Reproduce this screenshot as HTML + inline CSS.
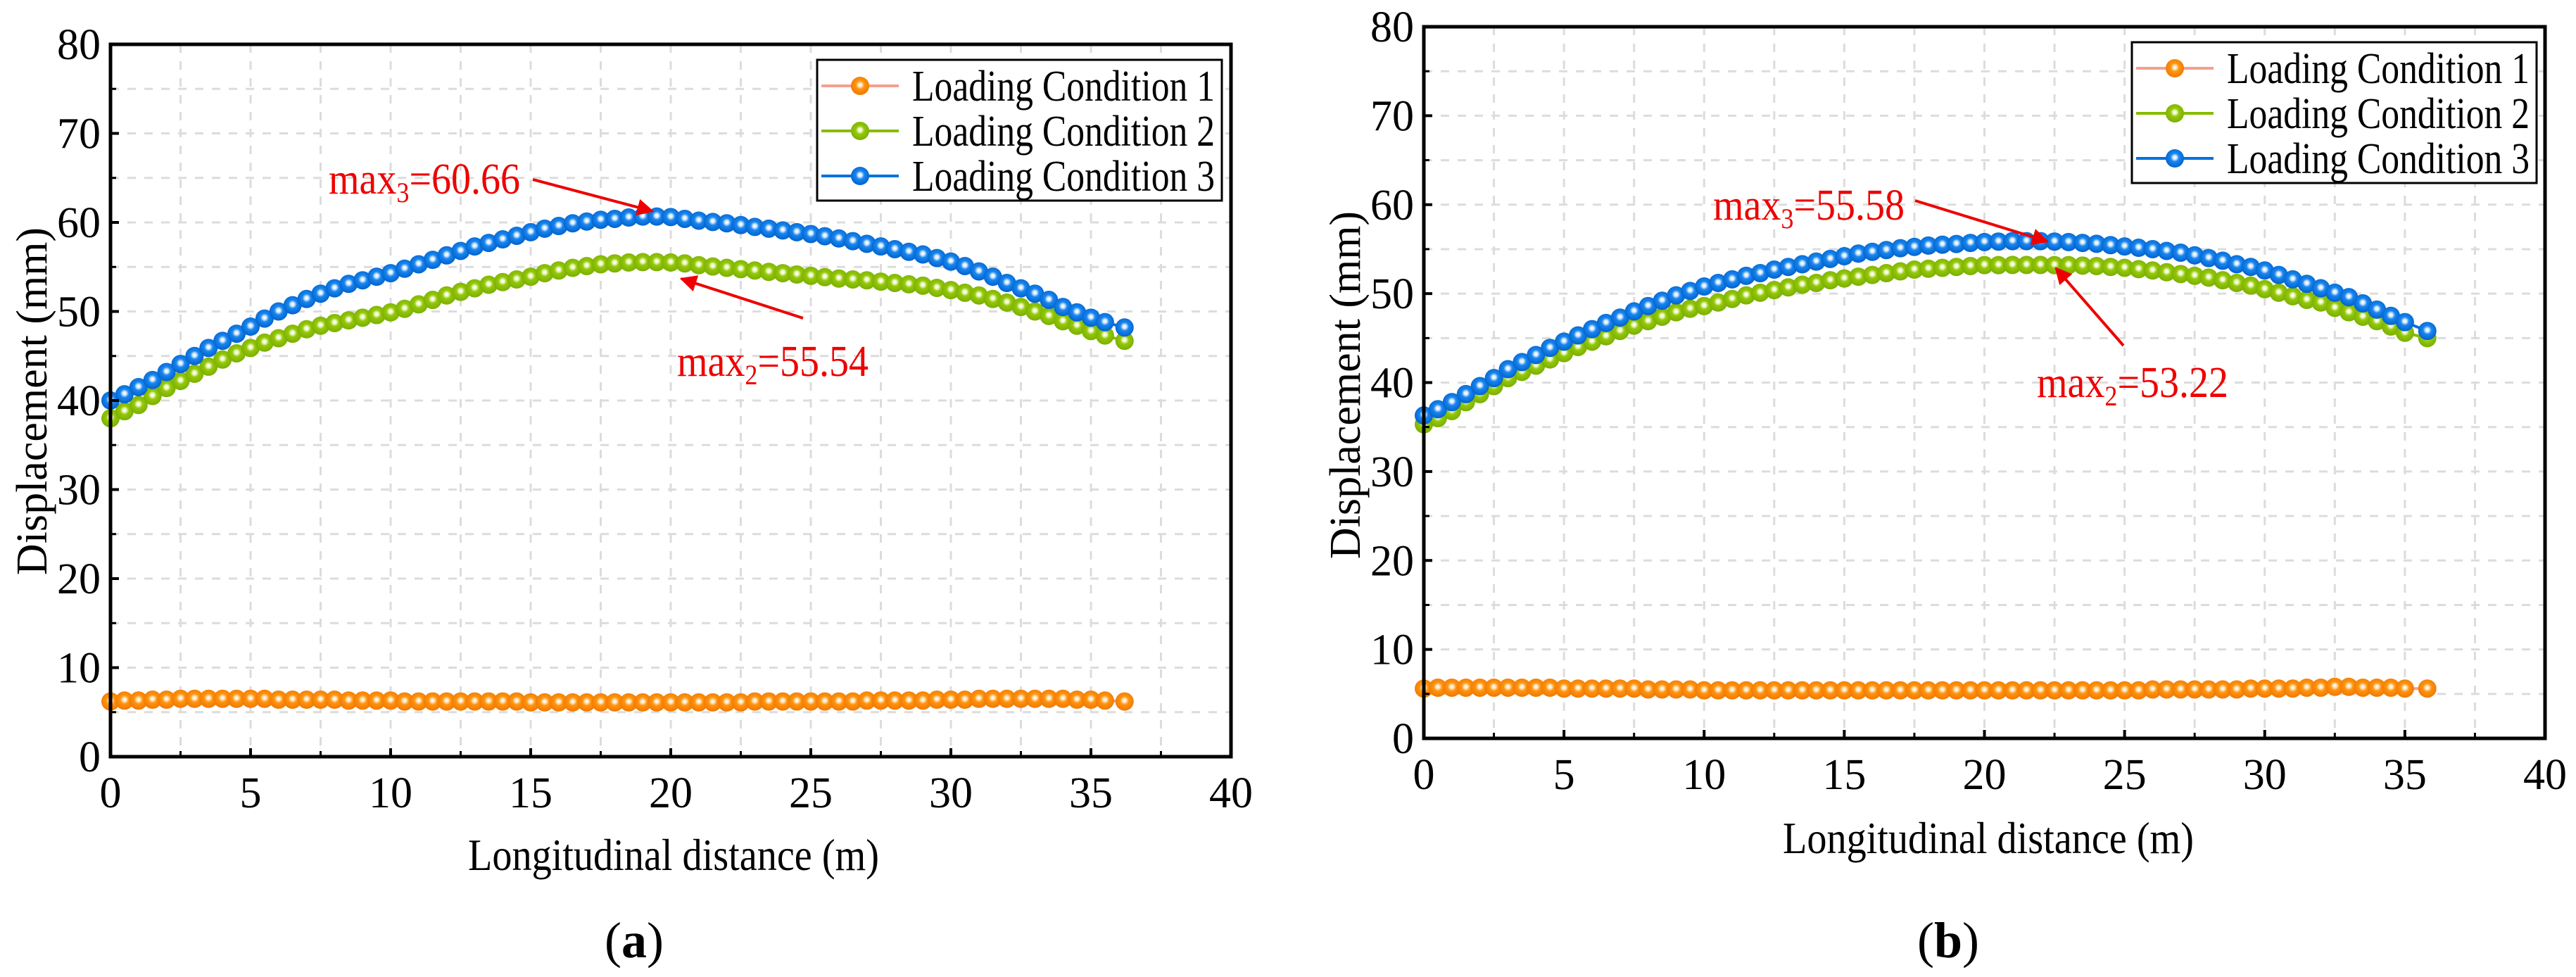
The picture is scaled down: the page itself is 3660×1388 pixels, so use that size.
<!DOCTYPE html>
<html><head><meta charset="utf-8"><style>
html,body{margin:0;padding:0;background:#fff;}
svg{display:block;}
svg text{font-family:"Liberation Serif",serif;}
</style></head><body>
<svg id="svg" width="3660" height="1388" viewBox="0 0 3660 1388" xmlns="http://www.w3.org/2000/svg" font-family="Liberation Serif, serif">
<defs>
<radialGradient id="gb" cx="0.5" cy="0.45" r="0.55"><stop offset="0" stop-color="#ffffff"/><stop offset="0.18" stop-color="#d8ecff"/><stop offset="0.42" stop-color="#1a86f0"/><stop offset="1" stop-color="#0062cc"/></radialGradient>
<radialGradient id="gg" cx="0.5" cy="0.45" r="0.55"><stop offset="0" stop-color="#ffffff"/><stop offset="0.18" stop-color="#eef8c8"/><stop offset="0.42" stop-color="#94c80a"/><stop offset="1" stop-color="#7aae00"/></radialGradient>
<radialGradient id="go" cx="0.5" cy="0.45" r="0.55"><stop offset="0" stop-color="#ffffff"/><stop offset="0.18" stop-color="#ffe6c0"/><stop offset="0.42" stop-color="#ff9410"/><stop offset="1" stop-color="#f07800"/></radialGradient>
<marker id="arr" viewBox="0 0 10 10" refX="9" refY="5" markerWidth="6" markerHeight="6" orient="auto"><path d="M0,0 L10,5 L0,10 z" fill="#ee0000"/></marker>
</defs>
</svg>
<script>
// ---- data: panel (a) ----
const xA = [0,0.5,1,1.5,2,2.5,3,3.5,4,4.5,5,5.5,6,6.5,7,7.5,8,8.5,9,9.5,10,10.5,11,11.5,12,12.5,13,13.5,14,14.5,15,15.5,16,16.5,17,17.5,18,18.5,19,19.5,20,20.5,21,21.5,22,22.5,23,23.5,24,24.5,25,25.5,26,26.5,27,27.5,28,28.5,29,29.5,30,30.5,31,31.5,32,32.5,33,33.5,34,34.5,35,35.5,36.2];
const a1 = [6.2,6.3,6.3,6.4,6.4,6.5,6.5,6.5,6.5,6.5,6.5,6.5,6.4,6.4,6.4,6.4,6.4,6.3,6.3,6.3,6.3,6.2,6.2,6.2,6.2,6.2,6.2,6.2,6.2,6.2,6.1,6.1,6.1,6.1,6.1,6.1,6.1,6.1,6.1,6.1,6.1,6.1,6.1,6.1,6.1,6.1,6.2,6.2,6.2,6.2,6.2,6.2,6.2,6.2,6.3,6.3,6.3,6.3,6.3,6.4,6.4,6.4,6.5,6.5,6.5,6.5,6.5,6.5,6.5,6.4,6.4,6.3,6.2];
const a2 = [38,38.8,39.5,40.5,41.4,42.2,43,43.8,44.6,45.3,45.9,46.5,47,47.5,48,48.4,48.7,49,49.3,49.6,49.9,50.3,50.8,51.3,51.8,52.2,52.6,53,53.3,53.6,53.9,54.3,54.6,54.9,55.1,55.3,55.4,55.5,55.54,55.54,55.5,55.4,55.2,55.05,54.9,54.75,54.6,54.45,54.3,54.15,54,53.85,53.7,53.6,53.5,53.35,53.2,53.05,52.9,52.65,52.4,52.1,51.8,51.4,51,50.5,50,49.5,48.9,48.4,47.8,47.3,46.7];
const a3 = [40,40.7,41.5,42.3,43.2,44.1,45,45.9,46.7,47.5,48.3,49.2,50,50.7,51.4,52,52.6,53.1,53.5,53.9,54.3,54.8,55.3,55.8,56.3,56.8,57.3,57.7,58.1,58.5,58.9,59.3,59.6,59.9,60.1,60.3,60.4,60.55,60.66,60.66,60.6,60.4,60.2,60.05,59.9,59.7,59.5,59.3,59.1,58.9,58.7,58.45,58.2,57.9,57.6,57.3,57,56.7,56.4,56,55.6,55.1,54.5,53.9,53.2,52.6,52,51.3,50.5,49.9,49.3,48.8,48.2];
// ---- data: panel (b) ----
const xB = [0,0.5,1,1.5,2,2.5,3,3.5,4,4.5,5,5.5,6,6.5,7,7.5,8,8.5,9,9.5,10,10.5,11,11.5,12,12.5,13,13.5,14,14.5,15,15.5,16,16.5,17,17.5,18,18.5,19,19.5,20,20.5,21,21.5,22,22.5,23,23.5,24,24.5,25,25.5,26,26.5,27,27.5,28,28.5,29,29.5,30,30.5,31,31.5,32,32.5,33,33.5,34,34.5,35,35.8];
const b1 = [5.6,5.7,5.7,5.7,5.7,5.7,5.7,5.7,5.7,5.7,5.6,5.6,5.6,5.6,5.6,5.6,5.5,5.5,5.5,5.5,5.4,5.4,5.4,5.4,5.4,5.4,5.4,5.4,5.4,5.4,5.4,5.4,5.4,5.4,5.4,5.4,5.4,5.4,5.4,5.4,5.4,5.4,5.4,5.4,5.4,5.4,5.4,5.4,5.4,5.4,5.4,5.4,5.5,5.5,5.5,5.5,5.5,5.5,5.5,5.6,5.6,5.6,5.6,5.7,5.7,5.8,5.8,5.7,5.7,5.7,5.6,5.6];
const b2 = [35.3,36,36.8,37.8,38.7,39.6,40.5,41.2,41.9,42.6,43.3,44,44.6,45.2,45.8,46.4,46.9,47.4,47.9,48.3,48.6,49,49.4,49.8,50.1,50.4,50.7,51,51.2,51.5,51.7,51.9,52.1,52.3,52.5,52.7,52.8,52.9,53,53.1,53.2,53.2,53.22,53.22,53.22,53.2,53.2,53.15,53.1,53,52.9,52.75,52.6,52.4,52.2,52,51.8,51.5,51.2,50.9,50.5,50.1,49.7,49.3,49,48.4,47.9,47.4,46.9,46.3,45.6,45];
const b3 = [36.3,37,37.8,38.7,39.6,40.5,41.5,42.3,43.1,43.9,44.6,45.3,46,46.7,47.3,48,48.6,49.2,49.8,50.3,50.8,51.2,51.6,52,52.3,52.7,53,53.3,53.6,53.9,54.2,54.5,54.7,54.9,55.1,55.25,55.4,55.5,55.58,55.7,55.8,55.85,55.9,55.9,55.9,55.85,55.8,55.7,55.6,55.45,55.3,55.15,55,54.8,54.6,54.3,54,53.7,53.3,53,52.6,52.1,51.6,51.1,50.6,50.1,49.6,48.9,48.2,47.5,46.8,45.8];
const xTicks = [0,5,10,15,20,25,30,35,40];
const yTicks = [0,10,20,30,40,50,60,70,80];
const legendLabels = ["Loading Condition 1","Loading Condition 2","Loading Condition 3"];

const NS="http://www.w3.org/2000/svg";
const svg=document.getElementById('svg');
const FF='Liberation Serif, serif';
function mk(tag,attrs,parent){const e=document.createElementNS(NS,tag);for(const k in attrs)e.setAttribute(k,attrs[k]);if(tag==='text')e.setAttribute('font-family',FF);(parent||svg).appendChild(e);return e;}

function panel(P){
  const g=mk('g',{});
  
  
  const sx=v=>P.x0+(v-0)/40*(P.x1-P.x0);
  const sy=v=>P.y1-(v-0)/80*(P.y1-P.y0);
  for(let v=2.5;v<40;v+=2.5){const l=mk('line',{x1:sx(v),x2:sx(v),y1:P.y0,y2:P.y1,stroke:'#dcdcdc','stroke-width':3,'stroke-dasharray':'12,12'},g);
    }
  for(let v=5;v<80;v+=5){const l=mk('line',{x1:P.x0,x2:P.x1,y1:sy(v),y2:sy(v),stroke:'#dcdcdc','stroke-width':3,'stroke-dasharray':'12,12'},g);
    }
  const ser=[[P.s1,'#f4a090','url(#go)','series-loading-condition-1'],[P.s2,'#86bc00','url(#gg)','series-loading-condition-2'],[P.s3,'#0072e0','url(#gb)','series-loading-condition-3']];
  ser.forEach(([d,lc,fill,nm])=>{
    const sg=mk('g',{},g);
    
    
    const pts=d.map((v,i)=>sx(P.xs[i])+','+sy(v)).join(' ');
    mk('polyline',{points:pts,fill:'none',stroke:lc,'stroke-width':4},sg);
    d.forEach((v,i)=>{const c=mk('circle',{cx:sx(P.xs[i]),cy:sy(v),r:13,fill:fill},sg);
      });
  });
  xTicks.forEach(v=>{mk('line',{x1:sx(v),x2:sx(v),y1:P.y1,y2:P.y1-12,stroke:'#000','stroke-width':4},g);
    const t=mk('text',{x:sx(v),y:P.y1+72,'font-size':62,'text-anchor':'middle'},g);t.textContent=v;
    });
  for(let v=2.5;v<40;v+=5)mk('line',{x1:sx(v),x2:sx(v),y1:P.y1,y2:P.y1-8,stroke:'#000','stroke-width':3},g);
  yTicks.forEach(v=>{mk('line',{x1:P.x0,x2:P.x0+12,y1:sy(v),y2:sy(v),stroke:'#000','stroke-width':4},g);
    const t=mk('text',{x:P.x0-14,y:sy(v)+21,'font-size':62,'text-anchor':'end'},g);t.textContent=v;
    });
  for(let v=5;v<80;v+=10)mk('line',{x1:P.x0,x2:P.x0+8,y1:sy(v),y2:sy(v),stroke:'#000','stroke-width':3},g);
  const fr=mk('rect',{x:P.x0,y:P.y0,width:P.x1-P.x0,height:P.y1-P.y0,fill:'none',stroke:'#000','stroke-width':5},g);
  
  const xt=mk('text',{x:P.xtX,y:P.xtY,'font-size':64,'text-anchor':'middle',textLength:584,lengthAdjust:'spacingAndGlyphs'},g);
  xt.textContent='Longitudinal distance (m)';
  const yt=mk('text',{x:0,y:0,'font-size':62,'text-anchor':'middle',transform:`translate(${P.ytX},${P.ytY}) rotate(-90)`},g);
  yt.textContent='Displacement (mm)';
  const lg=mk('g',{},g);
  mk('rect',{x:P.lx,y:P.ly,width:P.lw,height:200,fill:'#fff',stroke:'#000','stroke-width':3},lg);
  const lc=['#f4a090','#86bc00','#0072e0'],lf=['url(#go)','url(#gg)','url(#gb)'];
  legendLabels.forEach((s,i)=>{const y=P.ly+37+i*64;
    const e=mk('g',{},lg);
    mk('line',{x1:P.lx+6,x2:P.lx+116,y1:y,y2:y,stroke:lc[i],'stroke-width':4},e);
    mk('circle',{cx:P.lx+61,cy:y,r:13,fill:lf[i]},e);
    const t=mk('text',{x:P.lx+135,y:y+21,'font-size':62,textLength:430,lengthAdjust:'spacingAndGlyphs'},e);t.textContent=s;});
  P.ann.forEach(a=>{
    const t=mk('text',{x:a.tx,y:a.ty,'font-size':62,fill:'#ee0000',textLength:272,lengthAdjust:'spacingAndGlyphs'},g);
    
    t.innerHTML=`max<tspan font-size="40" dy="12">${a.sub}</tspan><tspan dy="-12">=${a.val}</tspan>`;
    const l=mk('line',{x1:a.ax1,y1:a.ay1,x2:a.ax2,y2:a.ay2,stroke:'#ee0000','stroke-width':4,'marker-end':'url(#arr)'},g);
    
  });
  const lab=mk('text',{x:P.labX,y:1360,'font-size':72,'text-anchor':'middle'},g);
  
  lab.innerHTML=`(<tspan font-weight="bold">${P.lab}</tspan>)`;
}
panel({name:'chart-a',xs:xA,s1:a1,s2:a2,s3:a3,x0:157,x1:1749,y0:63,y1:1075,xtX:957,xtY:1236,ytX:66,ytY:570,
  lx:1161,ly:85,lw:575,labX:901,lab:'a',
  ann:[{tx:467,ty:275,sub:3,val:'60.66',ax1:757,ay1:255,ax2:927,ay2:300},{tx:962,ty:534,sub:2,val:'55.54',ax1:1141,ay1:452,ax2:968,ay2:396}]});
panel({name:'chart-b',xs:xB,s1:b1,s2:b2,s3:b3,x0:2023,x1:3616,y0:38,y1:1049,xtX:2825,xtY:1212,ytX:1932,ytY:547,
  lx:3029,ly:60,lw:575,labX:2768,lab:'b',
  ann:[{tx:2434,ty:312,sub:3,val:'55.58',ax1:2721,ay1:285,ax2:2909,ay2:343},{tx:2894,ty:564,sub:2,val:'53.22',ax1:3017,ay1:491,ax2:2921,ay2:381}]});
</script>
</body></html>
